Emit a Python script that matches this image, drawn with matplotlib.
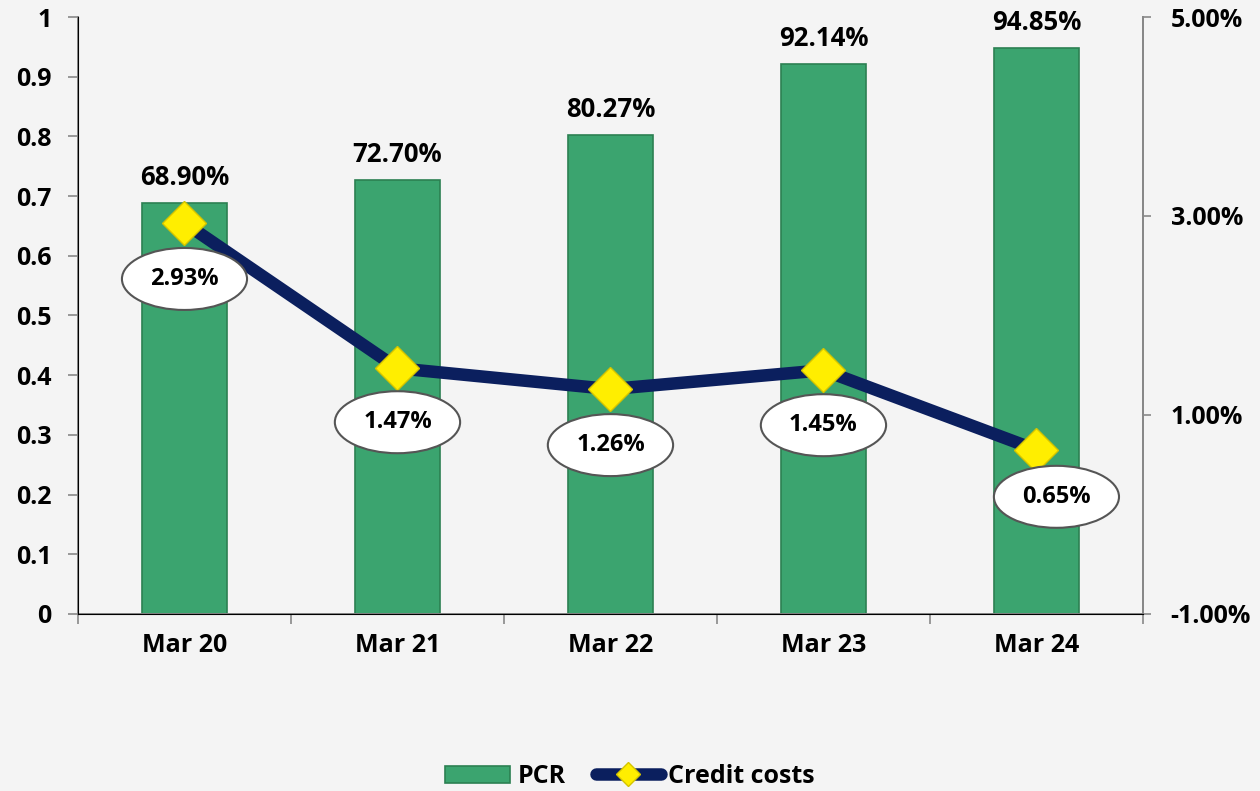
import matplotlib.pyplot as plt
import numpy as np

# data
categories = ["Mar 20", "Mar 21", "Mar 22", "Mar 23", "Mar 24"]
pcr = [0.6890, 0.7270, 0.8027, 0.9214, 0.9485]
credit_costs = [2.93, 1.47, 1.26, 1.45, 0.65]

plt.rcParams['font.family'] = ['Open Sans', 'DejaVu Sans']
plt.rcParams['font.weight'] = 'bold'

bg = '#f4f4f4'
fig = plt.figure(figsize=(12.6, 7.91), dpi=100, facecolor=bg)
ax1 = fig.add_axes([0.0619, 0.2238, 0.8452, 0.7547])
ax1.set_facecolor(bg)
x = np.arange(len(categories))

# bars for PCR
bars = ax1.bar(x, pcr, width=0.4, color='#3ba46f', edgecolor='#2c8052',
               linewidth=1.2, label='PCR', zorder=2)
for xi, v in zip(x, pcr):
    ax1.text(xi, v + 0.02, f"{v*100:.2f}%", ha='center', va='bottom',
             fontsize=18.5, fontweight='bold', color='black')

ax1.set_xlim(-0.5, 4.5)
ax1.set_ylim(0, 1)
ticks = np.arange(0, 1.01, 0.1)
ax1.set_yticks(ticks)
ax1.set_yticklabels(['0' if t == 0 else ('1' if t == 1 else f"{t:.1f}") for t in ticks])
ax1.set_xticks(x)
ax1.set_xticklabels(categories)
ax1.set_xticks(np.arange(-0.5, 4.6, 1), minor=True)
ax1.tick_params(axis='x', which='major', length=0, pad=14, labelsize=18)
ax1.tick_params(axis='x', which='minor', length=7, color='#888888', width=1.2)
ax1.tick_params(axis='y', length=7, color='#888888', width=1.2, labelsize=18, pad=12)
ax1.spines['top'].set_visible(False)
for s in ['left', 'bottom', 'right']:
    ax1.spines[s].set_color('#888888')
    ax1.spines[s].set_linewidth(1.4)

# credit costs line on right axis
ax2 = ax1.twinx()
ax2.set_ylim(-1, 5)
ax2.set_yticks([-1, 1, 3, 5])
ax2.set_yticklabels([f"{t:.2f}%" for t in [-1, 1, 3, 5]])
ax2.tick_params(axis='y', length=6, color='#888888', width=1.2, labelsize=18, pad=14)
ax2.spines['top'].set_visible(False)
ax2.spines['right'].set_color('#888888')
ax2.spines['right'].set_linewidth(1.4)
line, = ax2.plot(x, credit_costs, color='#0b1f5e', linewidth=9,
                 marker='D', markersize=22, markerfacecolor='#ffee00',
                 markeredgecolor='#d4c400', markeredgewidth=1, label='Credit costs',
                 solid_capstyle='round', zorder=3)

offsets = [(0, -56), (0, -54), (0, -56), (0, -55), (20, -47)]
for xi, v, off in zip(x, credit_costs, offsets):
    ax2.annotate(f"{v:.2f}%", (xi, v), xytext=off, textcoords='offset pixels',
                 ha='center', va='center', fontsize=17, fontweight='bold',
                 bbox=dict(boxstyle='ellipse,pad=0.42', fc='white', ec='#555555', lw=1.5),
                 zorder=5)

leg = fig.legend([bars, line], ['PCR', 'Credit costs'], loc='lower center',
                 bbox_to_anchor=(0.5, -0.026), ncol=2, frameon=False, markerscale=0.55,
                 fontsize=18, handlelength=2.6, columnspacing=1.2, handletextpad=0.3)
for t in leg.get_texts():
    t.set_fontweight('bold')

fig.savefig('out.png', dpi=100, facecolor=bg)
